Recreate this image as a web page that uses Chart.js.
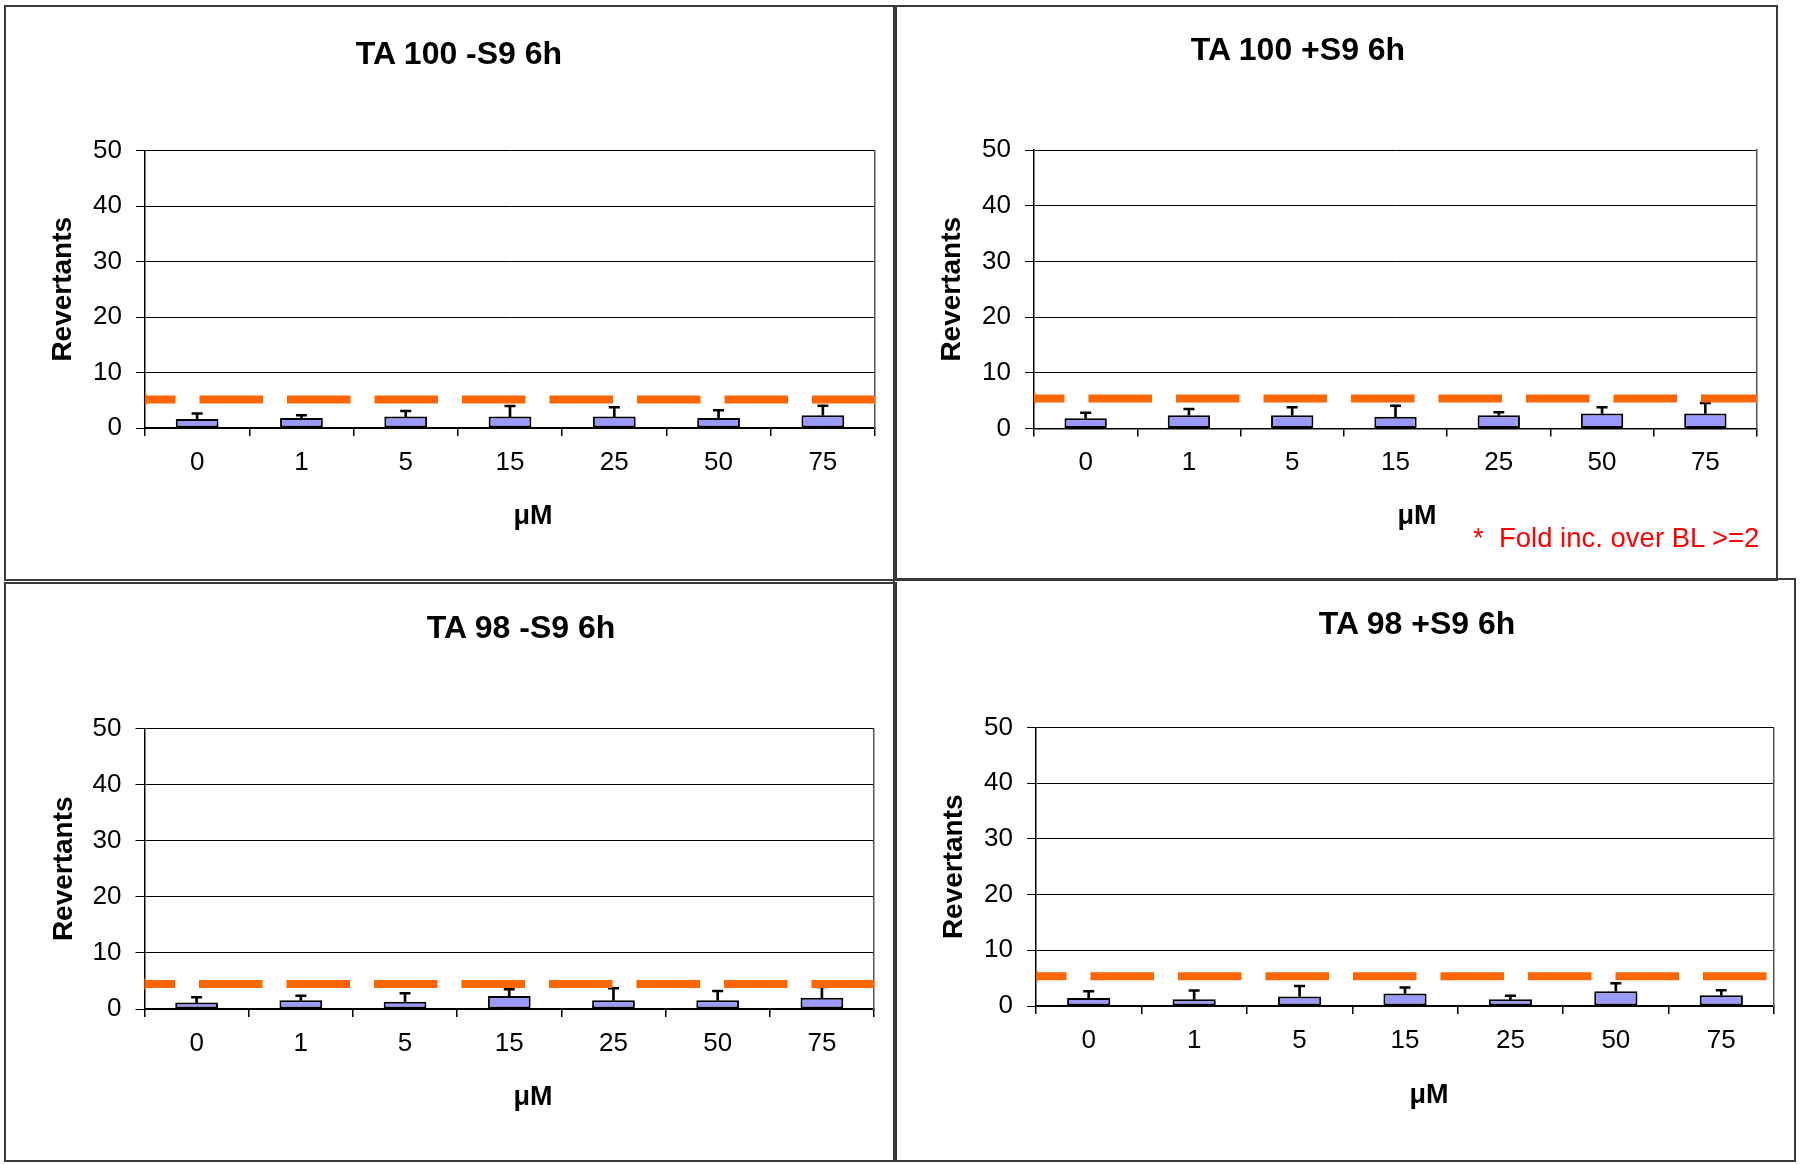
<!DOCTYPE html>
<html><head><meta charset="utf-8">
<script src="https://cdn.jsdelivr.net/npm/chart.js@4.4.1/dist/chart.umd.min.js"></script>
<style>
html,body{margin:0;padding:0;background:#fff;width:1800px;height:1165px;overflow:hidden;position:relative;font-family:'Liberation Sans',Arial,sans-serif;}
.box{position:absolute;}
.frame{position:absolute;box-sizing:border-box;border:2px solid #3a3a3a;pointer-events:none;}
.txt{position:absolute;transform:translate(-50%,-50%);white-space:nowrap;line-height:1;color:#000;}
.ttl{font-weight:bold;font-size:32px;}
.xt{font-weight:bold;font-size:27px;}
.note{position:absolute;white-space:pre;line-height:1;color:#ff0000;font-size:27.5px;transform:translateY(-50%);}
</style></head><body>
<script>
// ---------- data ----------
const doses = ['0', '1', '5', '15', '25', '50', '75'];
const yMin = 0, yMax = 50, yStep = 10;

const panelTitles = ['TA 100 -S9 6h', 'TA 100 +S9 6h', 'TA 98 -S9 6h', 'TA 98 +S9 6h'];
const yTitle = 'Revertants';
const xTitle = 'μM';
const noteText = '*  Fold inc. over BL >=2';

const ta100MinusMean = [1.6, 1.8, 2.05, 2.05, 2.05, 1.8, 2.3];
const ta100MinusErr  = [1.0, 0.5, 1.0, 1.9, 1.7, 1.4, 1.7];
const ta100MinusBL   = 5.15;

const ta100PlusMean = [1.85, 2.4, 2.4, 2.1, 2.4, 2.7, 2.7];
const ta100PlusErr  = [1.0, 1.1, 1.4, 2.0, 0.5, 1.1, 1.9];
const ta100PlusBL   = 5.4;

const ta98MinusMean = [1.15, 1.55, 1.3, 2.3, 1.55, 1.55, 2.0];
const ta98MinusErr  = [0.95, 0.8, 1.5, 1.2, 2.15, 1.65, 1.9];
const ta98MinusBL   = 4.45;

const ta98PlusMean = [1.45, 1.2, 1.7, 2.25, 1.2, 2.65, 1.95];
const ta98PlusErr  = [1.2, 1.6, 1.9, 1.05, 0.65, 1.45, 0.9];
const ta98PlusBL   = 5.35;

// ---------- layout (page pixels) ----------
const layouts = [
  {box:[4,5,891,574],   area:{l:145,r:875,t:150.5,b:428},   yt:63.5, title:[459,53],   xt:[533,515]},
  {box:[893,5,883,574], area:{l:1034,r:1757,t:150,b:428.5}, yt:952,  title:[1298,49],  xt:[1417,515]},
  {box:[4,582,891,578], area:{l:144.5,r:874,t:728.5,b:1009}, yt:64,  title:[521,627],  xt:[533,1096]},
  {box:[893,578,901,582], area:{l:1036,r:1774,t:727.5,b:1006}, yt:954, title:[1417,623], xt:[1429,1094]}
];
const series = [
  [ta100MinusMean, ta100MinusErr, ta100MinusBL],
  [ta100PlusMean, ta100PlusErr, ta100PlusBL],
  [ta98MinusMean, ta98MinusErr, ta98MinusBL],
  [ta98PlusMean, ta98PlusErr, ta98PlusBL]
];

const FONT = "'Liberation Sans', Arial, sans-serif";
Chart.defaults.font.family = FONT;
Chart.defaults.color = '#000';

const X_AXIS_H = 50;
const YT_SIZE = 28;

function addText(cls, text, x, y) {
  const d = document.createElement('div');
  d.className = 'txt ' + cls;
  d.textContent = text;
  d.style.left = x + 'px';
  d.style.top = y + 'px';
  document.body.appendChild(d);
}

layouts.forEach((L, i) => {
  const [bx, by, bw, bh] = L.box;
  const holder = document.createElement('div');
  holder.className = 'box';
  holder.style.left = bx + 'px'; holder.style.top = by + 'px';
  holder.style.width = bw + 'px'; holder.style.height = bh + 'px';
  const cv = document.createElement('canvas');
  holder.appendChild(cv);
  document.body.appendChild(holder);

  const [mean, err, bl] = series[i];
  const yW = L.area.l - bx;
  const padR = bx + bw - L.area.r;
  const padT = L.area.t - by;
  const padB = by + bh - L.area.b - X_AXIS_H;
  const ytPad = L.yt - bx - YT_SIZE * 1.2 / 2;

  new Chart(cv, {
    type: 'bar',
    data: {
      labels: doses,
      datasets: [
        {
          type: 'line', xAxisID: 'x2', yAxisID: 'y', order: 0,
          data: [{x: 0, y: bl}, {x: 1, y: bl}],
          borderColor: '#ff6600', backgroundColor: '#ff6600',
          borderWidth: 8, borderDash: [63.5, 24], borderDashOffset: 33,
          pointStyle: 'line', pointRotation: 90, pointRadius: [6, 0],
          pointBorderWidth: 3, pointBorderColor: '#ff6600', fill: false
        },
        {
          type: 'line', order: 1,
          data: mean.map((m, k) => m + err[k]),
          showLine: false, pointStyle: 'line', pointRadius: 5.5,
          pointBorderWidth: 2.5, pointBorderColor: '#000', borderColor: '#000'
        },
        {
          type: 'bar', order: 2, grouped: false,
          data: mean.map((m, k) => [m, m + err[k]]),
          backgroundColor: '#000', borderWidth: 0, barThickness: 2
        },
        {
          type: 'bar', order: 3, grouped: false,
          data: mean,
          backgroundColor: '#9999ff', borderColor: '#000', borderWidth: 2,
          borderSkipped: false, barPercentage: 0.41, categoryPercentage: 1
        }
      ]
    },
    options: {
      responsive: true, maintainAspectRatio: false, animation: false,
      devicePixelRatio: 1,
      layout: {padding: {left: 0, right: padR, top: padT, bottom: padB}},
      plugins: {legend: {display: false}, tooltip: {enabled: false}, title: {display: false}},
      scales: {
        x: {
          type: 'category', position: 'bottom',
          grid: {offset: true, drawOnChartArea: false, tickLength: 8, color: '#000', lineWidth: 1.5},
          border: {display: true, color: '#000', width: 1.5},
          ticks: {font: {size: 26}, color: '#000', padding: 11, maxRotation: 0},
          afterFit: s => { s.height = X_AXIS_H; }
        },
        x2: {type: 'linear', display: false, min: 0, max: 1, offset: false, grid: {offset: false}},
        y: {
          position: 'left', min: yMin, max: yMax,
          ticks: {stepSize: yStep, font: {size: 26}, color: '#000', padding: 14},
          grid: {color: '#000', lineWidth: 1, tickLength: 9},
          border: {display: true, color: '#000', width: 1.5},
          title: {display: true, text: yTitle, font: {size: YT_SIZE, weight: 'bold'}, color: '#000', padding: {top: ytPad, bottom: 0}},
          afterFit: s => { s.width = yW; }
        },
        y2: {
          position: 'right', display: true, min: 0, max: 1,
          ticks: {display: false},
          grid: {drawOnChartArea: false, drawTicks: false},
          border: {display: true, color: '#555', width: 1.5},
          afterFit: s => { s.width = 0; }
        }
      }
    }
  });

  addText('ttl', panelTitles[i], L.title[0], L.title[1]);
  addText('xt', xTitle, L.xt[0], L.xt[1]);

  const fr = document.createElement('div');
  fr.className = 'frame';
  fr.style.left = bx + 'px'; fr.style.top = by + 'px';
  fr.style.width = (bw + 2) + 'px'; fr.style.height = (bh + 2) + 'px';
  document.body.appendChild(fr);
});

const note = document.createElement('div');
note.className = 'note';
note.textContent = noteText;
note.style.left = '1473px';
note.style.top = '538px';
document.body.appendChild(note);
</script>
</body></html>
